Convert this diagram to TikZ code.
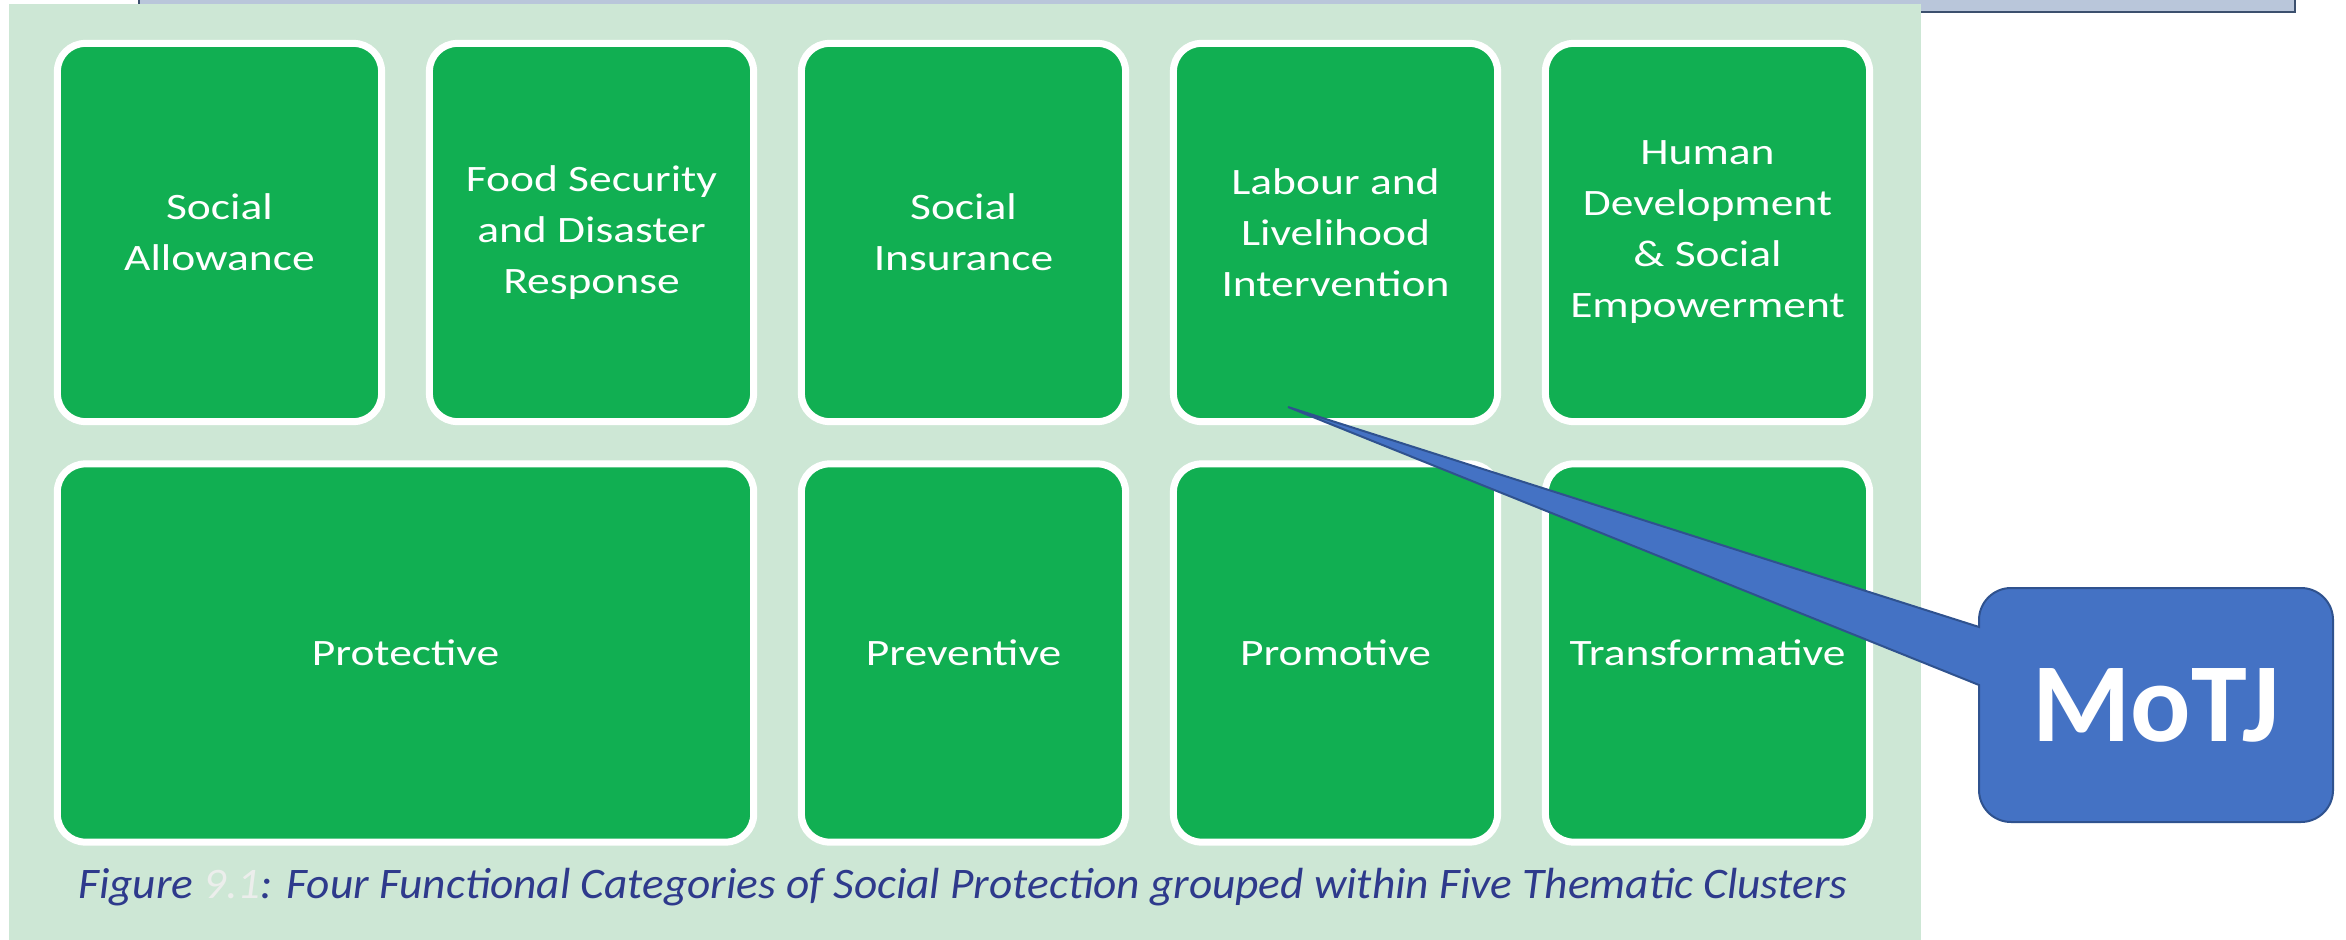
\documentclass[tikz,border=0pt]{standalone}
\usepackage{fontspec}
\setmainfont{Carlito}
\newfontfamily\cellfont[FakeStretch=1.22]{Carlito}
\newfontfamily\capfont[FakeStretch=1.04]{Carlito}
\definecolor{bggreen}{RGB}{205,231,213}
\definecolor{boxgreen}{RGB}{17,175,82}
\definecolor{capblue}{RGB}{46,58,140}
\definecolor{ghost}{RGB}{236,238,236}
\definecolor{motjblue}{RGB}{68,114,196}
\definecolor{motjedge}{RGB}{47,82,143}
\definecolor{stripfill}{RGB}{185,198,218}
\definecolor{stripedge}{RGB}{60,80,110}
\begin{document}
\begin{tikzpicture}[x=0.01cm,y=-0.01cm,
  cell/.style={draw=white,line width=0.07cm,fill=boxgreen,rounded corners=0.28cm,inner sep=0pt,
    minimum width=3.24cm,minimum height=3.78cm,text=white,align=center,font=\cellfont\fontsize{10.6}{14.5}\selectfont},
  widecell/.style={cell,minimum width=6.96cm},
  callout/.style={fill=motjblue,draw=motjedge,line width=0.02cm}]
\useasboundingbox[fill=white] (0,0) rectangle (2346,940);
\fill[stripfill] (139,0) rectangle (2295,12);
\draw[stripedge,line width=0.02cm] (139,0) -- (139,12) -- (2295,12) -- (2295,0);
\fill[bggreen] (9,4) rectangle (1921,940);
\node[cell] at (219.5,232.5) (allowance) {Social\\Allowance};
\node[cell] at (591.5,232.5) (food) {Food Security\\and Disaster\\Response};
\node[cell] at (963.5,232.5) (insurance) {Social\\Insurance};
\node[cell] at (1335.5,232.5) (labour) {Labour and\\Livelihood\\Intervention};
\node[cell] at (1707.5,232.5) (human) {Human\\Development\\\& Social\\Empowerment};
\node[widecell] at (405.5,653) (protective) {Protective};
\node[cell] at (963.5,653) (preventive) {Preventive};
\node[cell] at (1335.5,653) (promotive) {Promotive};
\node[cell] at (1707.5,653) (transformative) {Transformative};
\node[anchor=base,text=capblue,font=\capfont\itshape\fontsize{12.4}{15}\selectfont] at (963,898) (caption) {Figure \textcolor{ghost}{9.1}: Four Functional Categories of Social Protection grouped within Five Thematic Clusters};
\coordinate (tip) at (1288,407);
\draw[callout] (1979,627) -- (1979,620) arc[start angle=180,end angle=270,radius=32] -- (2301,588) arc[start angle=270,end angle=360,radius=32]
  -- (2333,790) arc[start angle=0,end angle=90,radius=32] -- (2011,822) arc[start angle=90,end angle=180,radius=32] -- (1979,685) -- (tip) -- cycle;
\node[text=white,font=\bfseries\fontsize{32}{38}\selectfont] at (2156,705) (motj) {MoTJ};
\end{tikzpicture}
\end{document}
